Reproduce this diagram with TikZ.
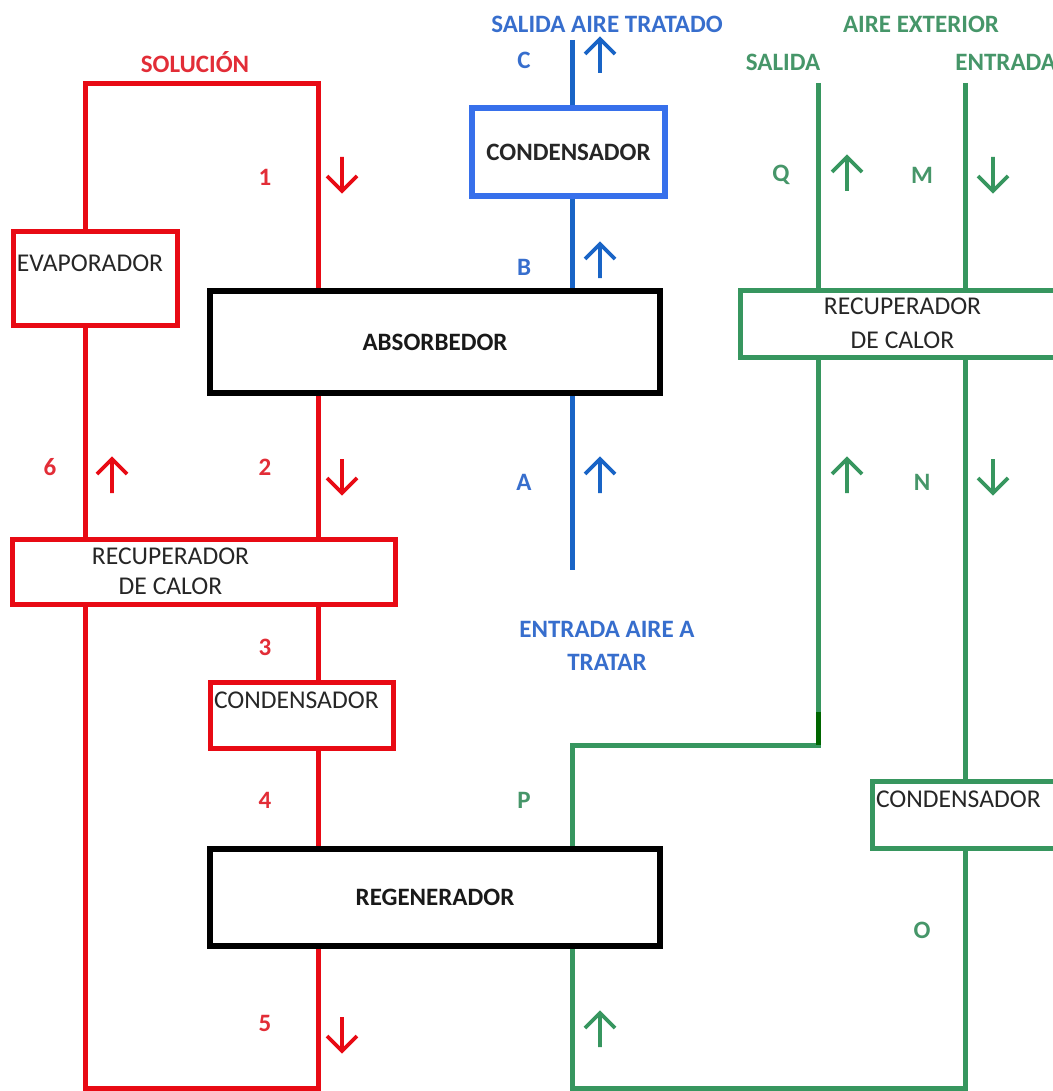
\documentclass[tikz,border=0pt]{standalone}
\usepackage{fontspec}
\setmainfont{Carlito}
\definecolor{solred}{RGB}{232,10,20}
\definecolor{solredtxt}{RGB}{226,45,55}
\definecolor{airblue}{RGB}{25,100,198}
\definecolor{airbluebox}{RGB}{55,112,235}
\definecolor{airbluetxt}{RGB}{55,110,205}
\definecolor{extgreen}{RGB}{55,150,95}
\definecolor{extgreentxt}{RGB}{70,150,105}
\tikzset{
	pipe/.style={line width=2.5pt},
	unit/.style={draw, line width=2.5pt, inner sep=0pt, text=black!85},
	unitleft/.style={unit, align=left, inner xsep=2pt},
	bigunit/.style={draw=black, line width=3pt, inner sep=0pt, text=black!90, font=\fontsize{12.5}{15}\selectfont\bfseries},
	lbl/.style={inner sep=0pt, font=\fontsize{12.5}{15}\selectfont\bfseries},
	flowtip/.style={line width=1.8pt},
}

\begin{document}
\begin{tikzpicture}[x=0.5pt, y=-0.5pt, font=\fontsize{12.8}{15}\selectfont]
	\clip (0,0) rectangle (1053,1091);
	\node[unitleft, draw=solred, text width=78pt, minimum height=46.5pt] (evap) at (95,278.5) {EVAPORADOR\\\mbox{}};
	\node[bigunit, minimum width=225pt, minimum height=51pt] (absorb) at (435,342) {ABSORBEDOR};
	\node[unit, draw=solred, minimum width=191.5pt, minimum height=32.5pt,
		label={[align=center, xshift=-16.5pt, text=black!85]center:RECUPERADOR\\DE CALOR}] (rrec) at (203.5,571.5) {};
	\node[unitleft, draw=solred, text width=87.5pt, minimum height=33pt] (rcond) at (301.5,715) {CONDENSADOR\\\mbox{}};
	\node[bigunit, minimum width=225pt, minimum height=48.5pt] (regen) at (435,897.5) {REGENERADOR};
	\node[unit, draw=airbluebox, line width=2.8pt, minimum width=96.5pt, minimum height=44pt, font=\fontsize{12.5}{15}\selectfont\bfseries] (bcond) at (568.5,152) {CONDENSADOR};
	\node[unit, draw=extgreen, align=center, minimum width=162.5pt, minimum height=33.5pt] (grec) at (902.5,323.5) {RECUPERADOR\\[2pt]DE CALOR};
	\node[unitleft, draw=extgreen, text width=92.5pt, minimum height=33.5pt] (gcond) at (968.5,814.5) {CONDENSADOR\\\mbox{}};

	\coordinate (stl) at (85,84);
	\coordinate (str) at (318,84);
	\coordinate (sbl) at (85,1088);
	\coordinate (sbr) at (318,1088);
	\draw[pipe, solred] (evap.north -| stl) -- (stl) -- (str) -- (absorb.north -| str);
	\draw[pipe, solred] (absorb.south -| str) -- (rrec.north -| str);
	\draw[pipe, solred] (rrec.south -| str) -- (rcond.north -| str);
	\draw[pipe, solred] (rcond.south -| str) -- (regen.north -| str);
	\draw[pipe, solred] (regen.south -| str) -- (sbr) -- (sbl) -- (rrec.south -| sbl);
	\draw[pipe, solred] (rrec.north -| sbl) -- (evap.south -| sbl);

	\coordinate (bout) at (572,40);
	\coordinate (bin) at (572,570);
	\draw[pipe, airblue] (bout) -- (bcond.north -| bout);
	\draw[pipe, airblue] (bcond.south -| bout) -- (absorb.north -| bout);
	\draw[pipe, airblue] (absorb.south -| bout) -- (bin);

	\coordinate (gout) at (818,83);
	\coordinate (gin) at (965,83);
	\coordinate (gdark) at (818,712);
	\coordinate (gbend) at (818,745);
	\coordinate (gjog) at (572,745);
	\coordinate (gbr) at (965,1088);
	\coordinate (gbl) at (572,1088);
	\draw[pipe, extgreen] (gout) -- (grec.north -| gout);
	\draw[pipe, extgreen] (gin) -- (grec.north -| gin);
	\draw[pipe, extgreen] (grec.south -| gout) -- (gbend) -- (gjog) -- (regen.north -| gjog);
	\draw[pipe, green!40!black] (gdark) -- (gbend);
	\draw[pipe, extgreen] (grec.south -| gin) -- (gcond.north -| gin);
	\draw[pipe, extgreen] (gcond.south -| gin) -- (gbr) -- (gbl) -- (regen.south -| gbl);

	\node[lbl, solredtxt] (sol) at (195,62) {SOLUCIÓN};
	\foreach \n/\y in {1/177, 2/467, 3/647, 4/800, 5/1023}
		\node[lbl, solredtxt] (n\n) at (265,\y) {\n};
	\node[lbl, solredtxt] (n6) at (50,467) {6};

	\node[lbl, airbluetxt] (bsal) at (607,24) {SALIDA AIRE TRATADO};
	\node[lbl, airbluetxt, align=center] (bent) at (607,646) {ENTRADA AIRE A\\[1.5pt]TRATAR};
	\foreach \n/\y in {C/60, B/267, A/482}
		\node[lbl, airbluetxt] (p\n) at (524,\y) {\n};

	\node[lbl, extgreentxt] (gext) at (921,24) {AIRE EXTERIOR};
	\node[lbl, extgreentxt] (gsal) at (783,62) {SALIDA};
	\node[lbl, extgreentxt, anchor=west] (gent) at (955,62) {ENTRADA};
	\foreach \n/\x/\y in {Q/781/175, M/922/175, N/922/482, O/922/930, P/524/800}
		\node[lbl, extgreentxt] (p\n) at (\x,\y) {\n};

	\foreach \x/\y/\c in {342/174/solred, 342/476/solred, 342/1034/solred, 993/174/extgreen, 993/476/extgreen}
		\draw[flowtip, \c] (\x,\y-17) -- (\x,\y+17) (\x-15,\y+2) -- (\x,\y+17) -- (\x+15,\y+2);
	\foreach \x/\y/\c in {112/476/solred, 600/56/airblue, 600/261/airblue, 600/476/airblue, 847/174/extgreen, 847/476/extgreen, 600/1030/extgreen}
		\draw[flowtip, \c] (\x,\y+17) -- (\x,\y-17) (\x-15,\y-2) -- (\x,\y-17) -- (\x+15,\y-2);
\end{tikzpicture}
\end{document}
